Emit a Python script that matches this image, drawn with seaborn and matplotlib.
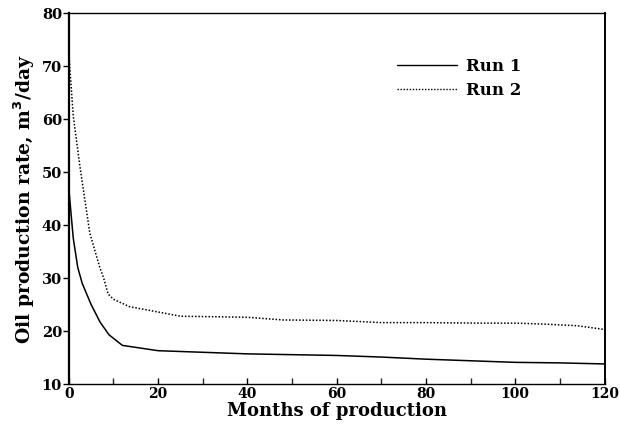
import matplotlib
matplotlib.use("Agg")
import matplotlib.pyplot as plt
import seaborn as sns
import pandas as pd

# Oil production rate (m3/day) against months of production
run1_months = [0, 0.3, 1, 2, 3, 5, 7, 9, 12, 20, 30, 40, 60, 70, 80, 90, 100, 110, 120]
run1_rate = [47, 44, 37.5, 32, 29, 25, 21.7, 19.3, 17.3, 16.3, 16.0, 15.7, 15.4, 15.1, 14.7, 14.4, 14.1, 14.0, 13.8]

run2_months = [0, 0.2, 1, 2.5, 4.7, 6.9, 7.8, 8.8, 10, 13.6, 20, 25, 33, 40, 48, 60, 70, 80, 92, 100, 107, 114, 120]
run2_rate = [73, 70, 60.5, 51, 38.5, 32.1, 30.0, 27.0, 26.0, 24.6, 23.6, 22.8, 22.7, 22.6, 22.1, 22.0, 21.6, 21.6, 21.5, 21.5, 21.3, 21.0, 20.3]

x_ticks = [0, 20, 40, 60, 80, 100, 120]
y_ticks = [10, 20, 30, 40, 50, 60, 70, 80]

df = pd.concat([
    pd.DataFrame({"months": run1_months, "rate": run1_rate, "run": "Run 1"}),
    pd.DataFrame({"months": run2_months, "rate": run2_rate, "run": "Run 2"}),
])

sns.set_theme(style="ticks")
plt.rcParams["font.family"] = ["DejaVu Serif"]
plt.rcParams["font.weight"] = "bold"
plt.rcParams["text.color"] = "black"
plt.rcParams["axes.labelcolor"] = "black"

fig = plt.figure(figsize=(6.2, 4.34), dpi=100)
ax = fig.add_axes([0.111, 0.115, 0.864, 0.855])

sns.lineplot(data=df, x="months", y="rate", hue="run", style="run",
             palette=["black", "black"],
             dashes={"Run 1": "", "Run 2": (1, 1.2)},
             linewidth=1.1, ax=ax, sort=False, estimator=None)

ax.set_xlim(0, 120)
ax.set_ylim(10, 80)
ax.set_xticks(x_ticks)
ax.set_yticks(y_ticks)
ax.set_xticks([10, 30, 50, 70, 90, 110], minor=True)
ax.tick_params(axis="x", direction="in", length=4, width=1, labelsize=10, pad=2, colors="black")
ax.tick_params(axis="x", which="minor", direction="in", length=4, width=1, bottom=True)
ax.tick_params(axis="y", direction="out", length=4, width=1, labelsize=10.5, pad=1, colors="black")
for lbl in ax.get_xticklabels() + ax.get_yticklabels():
    lbl.set_fontweight("bold")

for side in ["top", "right", "bottom", "left"]:
    ax.spines[side].set_visible(True)
    ax.spines[side].set_color("black")
    ax.spines[side].set_linewidth(1.0)
ax.spines["left"].set_linewidth(1.6)
ax.spines["right"].set_linewidth(1.4)

ax.set_xlabel("Months of production", fontsize=13, fontweight="bold", labelpad=1, color="black")
ax.set_ylabel("Oil production rate, m$^3$/day", fontsize=13.5, fontweight="bold", labelpad=3, color="black")

leg = ax.legend(loc="upper left", bbox_to_anchor=(0.585, 0.92), frameon=False,
                handlelength=3.6, handletextpad=0.5, labelspacing=0.45,
                prop={"size": 12, "weight": "bold", "family": "DejaVu Serif"})
for line in leg.get_lines():
    line.set_linewidth(1.0)
for txt in leg.get_texts():
    txt.set_color("black")

fig.savefig("out.png", dpi=100)
